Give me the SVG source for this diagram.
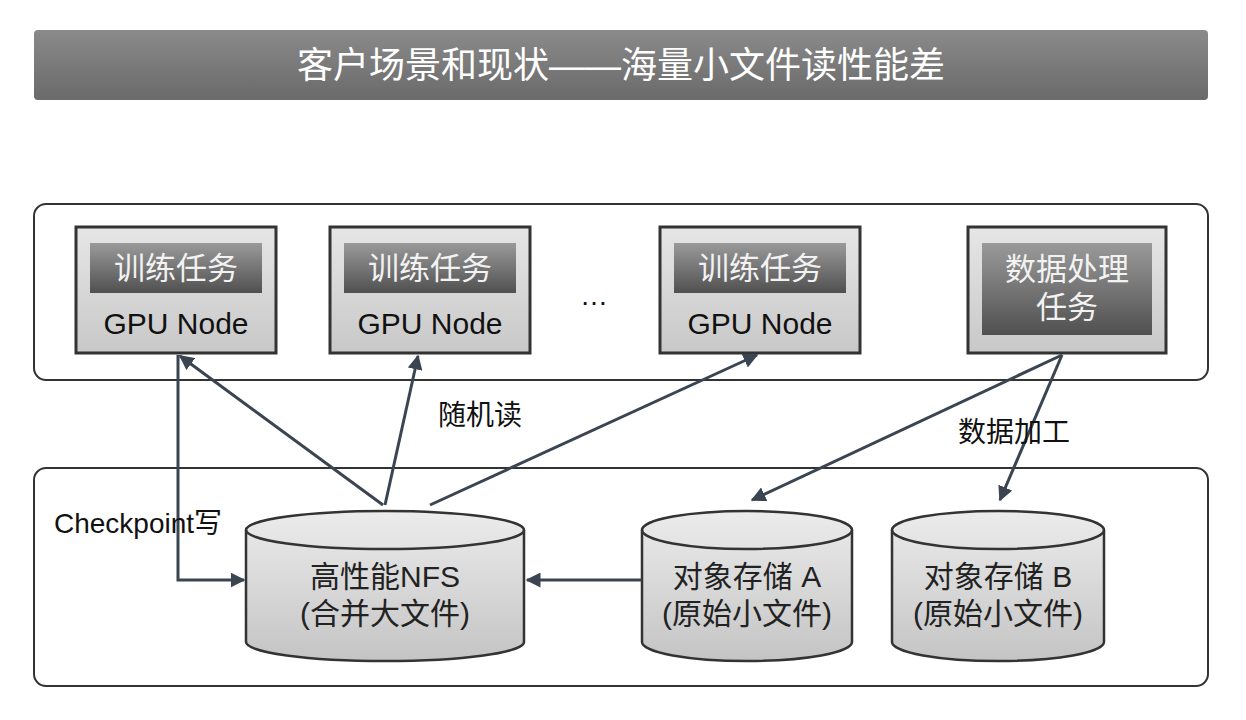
<svg xmlns="http://www.w3.org/2000/svg" width="1246" height="720" viewBox="0 0 1246 720">
<style>
.cn{font-family:"Liberation Sans","Noto Sans CJK SC",sans-serif}
.box{fill:url(#gb);stroke:#333;stroke-width:3}
.bar{fill:url(#gd)}
.wt{fill:#f2f2f2;font-size:31px}
.bt{fill:#111;font-size:30px}
.ct{fill:#222;font-size:30px}
.cont{fill:#fff;stroke:#333;stroke-width:2}
.cyl{fill:url(#gc);stroke:#333;stroke-width:2.5}
.ln{stroke:#3b4552;stroke-width:3;fill:none;marker-end:url(#ah)}
</style>
<defs>
<linearGradient id="gt" x1="0" y1="0" x2="0" y2="1"><stop offset="0" stop-color="#8a8a8a"/><stop offset="1" stop-color="#6a6a6a"/></linearGradient>
<linearGradient id="gb" x1="0" y1="0" x2="0" y2="1"><stop offset="0" stop-color="#e6e6e6"/><stop offset="1" stop-color="#c8c8c8"/></linearGradient>
<linearGradient id="gd" x1="0" y1="0" x2="0" y2="1"><stop offset="0" stop-color="#9a9a9a"/><stop offset="1" stop-color="#505050"/></linearGradient>
<linearGradient id="gc" x1="0" y1="0" x2="0" y2="1"><stop offset="0" stop-color="#ececec"/><stop offset="1" stop-color="#c4c4c4"/></linearGradient>
<marker id="ah" viewBox="0 0 10 10" refX="9" refY="5" markerWidth="5" markerHeight="5" orient="auto-start-reverse" markerUnits="strokeWidth"><path d="M0,0 L10,5 L0,10 z" fill="#3b4552"/></marker>
</defs>
<g id="title"><rect x="34" y="30" width="1174" height="70" rx="4" fill="url(#gt)"/><text x="621" y="78" text-anchor="middle" class="cn" fill="#fff" font-size="36">客户场景和现状——海量小文件读性能差</text></g>
<rect id="top-container" class="cont" x="34" y="204" width="1174" height="176" rx="12"/>
<rect id="bottom-container" class="cont" x="34" y="468" width="1174" height="218" rx="12"/>
<g id="gpu1"><rect class="box" x="76" y="227" width="200" height="126"/><rect class="bar" x="90" y="243" width="172" height="50"/><text class="cn wt" x="176" y="279" text-anchor="middle">训练任务</text><text class="cn bt" x="176" y="334" text-anchor="middle">GPU Node</text></g>
<g id="gpu2"><rect class="box" x="330" y="227" width="200" height="126"/><rect class="bar" x="344" y="243" width="172" height="50"/><text class="cn wt" x="430" y="279" text-anchor="middle">训练任务</text><text class="cn bt" x="430" y="334" text-anchor="middle">GPU Node</text></g>
<text class="cn" x="594" y="305" text-anchor="middle" font-size="28" fill="#111">…</text>
<g id="gpu3"><rect class="box" x="660" y="227" width="200" height="126"/><rect class="bar" x="674" y="243" width="172" height="50"/><text class="cn wt" x="760" y="279" text-anchor="middle">训练任务</text><text class="cn bt" x="760" y="334" text-anchor="middle">GPU Node</text></g>
<g id="dataproc"><rect class="box" x="968" y="227" width="198" height="126"/><rect class="bar" x="982" y="243" width="170" height="92"/><text class="cn wt" x="1067" y="280" text-anchor="middle">数据处理</text><text class="cn wt" x="1067" y="318" text-anchor="middle">任务</text></g>
<g id="nfs"><path class="cyl" d="M246,530 A139,19 0 0 1 524,530 V642 A139,19 0 0 1 246,642 Z"/><path d="M246,530 A139,19 0 0 0 524,530" fill="none" stroke="#333" stroke-width="2.5"/><text class="cn ct" x="385" y="587" text-anchor="middle">高性能NFS</text><text class="cn ct" x="385" y="624" text-anchor="middle">(合并大文件)</text></g>
<g id="objA"><path class="cyl" d="M642,530 A105,19 0 0 1 852,530 V642 A105,19 0 0 1 642,642 Z"/><path d="M642,530 A105,19 0 0 0 852,530" fill="none" stroke="#333" stroke-width="2.5"/><text class="cn ct" x="747" y="587" text-anchor="middle">对象存储 A</text><text class="cn ct" x="747" y="624" text-anchor="middle">(原始小文件)</text></g>
<g id="objB"><path class="cyl" d="M892,530 A106,19 0 0 1 1104,530 V642 A106,19 0 0 1 892,642 Z"/><path d="M892,530 A106,19 0 0 0 1104,530" fill="none" stroke="#333" stroke-width="2.5"/><text class="cn ct" x="998" y="587" text-anchor="middle">对象存储 B</text><text class="cn ct" x="998" y="624" text-anchor="middle">(原始小文件)</text></g>
<g id="connectors">
<path class="ln" d="M178,355 V580 H244"/>
<path class="ln" d="M383,505 L180,356"/>
<path class="ln" d="M385,505 L418,356"/>
<path class="ln" d="M430,505 L757,355"/>
<path class="ln" d="M642,580 H527"/>
<path class="ln" d="M1062,355 L752,500"/>
<path class="ln" d="M1062,355 L1000,500"/>
</g>
<g id="labels" class="cn" font-size="28" fill="#111">
<text x="438" y="425">随机读</text>
<text x="958" y="442">数据加工</text>
<text x="54" y="533">Checkpoint写</text>
</g>
</svg>
